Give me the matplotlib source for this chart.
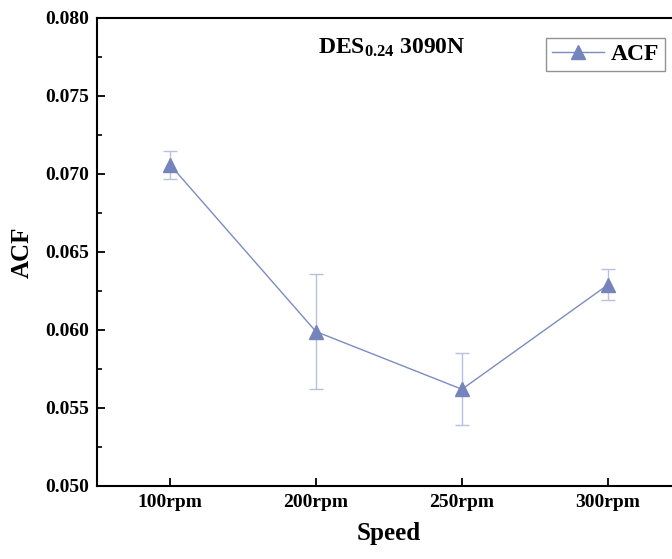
import matplotlib
matplotlib.use("Agg")
import matplotlib.pyplot as plt
from matplotlib.ticker import MultipleLocator

speeds = ["100rpm", "200rpm", "250rpm", "300rpm"]
acf = [0.0706, 0.0599, 0.0562, 0.0629]
acf_err = [0.0009, 0.0037, 0.0023, 0.0010]

plt.rcParams["font.family"] = ["Liberation Serif", "DejaVu Serif"]
plt.rcParams["font.weight"] = "bold"
plt.rcParams["mathtext.fontset"] = "custom"
plt.rcParams["mathtext.rm"] = "Liberation Serif:bold"
plt.rcParams["mathtext.bf"] = "Liberation Serif:bold"

fig = plt.figure(figsize=(6.72, 5.59), dpi=100)
ax = fig.add_axes([0.1443, 0.1306, 0.869, 0.8372])

x = list(range(1, len(speeds) + 1))
ax.errorbar(x, acf, yerr=acf_err, fmt="none", ecolor="#b9c0de",
            elinewidth=1.0, capsize=5, capthick=1.0)
ax.plot(x, acf, color="#7d8cc0", linewidth=1.0, marker="^", markersize=10,
        markerfacecolor="#7584bb", markeredgecolor="#7584bb", label="ACF")

ax.set_xlim(0.5, 4.5)
ax.set_ylim(0.050, 0.080)
ax.set_xticks(x)
ax.set_xticklabels(speeds)
ax.yaxis.set_major_locator(MultipleLocator(0.005))
ax.yaxis.set_minor_locator(MultipleLocator(0.0025))
ax.yaxis.set_major_formatter(plt.FormatStrFormatter("%.3f"))
ax.tick_params(axis="both", which="major", direction="in", length=6,
               width=1.3, labelsize=14, pad=6)
ax.tick_params(axis="y", which="minor", direction="in", length=3.5, width=1.2)
for side in ["left", "bottom", "top", "right"]:
    ax.spines[side].set_linewidth(1.5)

ax.set_xlabel("Speed", fontsize=18, fontweight="bold", labelpad=8)
ax.set_ylabel("ACF", fontsize=18, fontweight="bold", labelpad=8)

ax.text(0.505, 0.936, r"$\mathrm{DES_{0.24}}$ 3090N", transform=ax.transAxes,
        ha="center", va="center", fontsize=17, fontweight="bold")

leg = ax.legend(loc="upper right", bbox_to_anchor=(0.9896, 0.932),
                bbox_transform=fig.transFigure, fontsize=17, frameon=True,
                fancybox=False, edgecolor="#777777", handlelength=2.2,
                handletextpad=0.3, borderpad=0.25, borderaxespad=0)
leg.get_frame().set_linewidth(1.0)

fig.savefig("out.png", dpi=100)
